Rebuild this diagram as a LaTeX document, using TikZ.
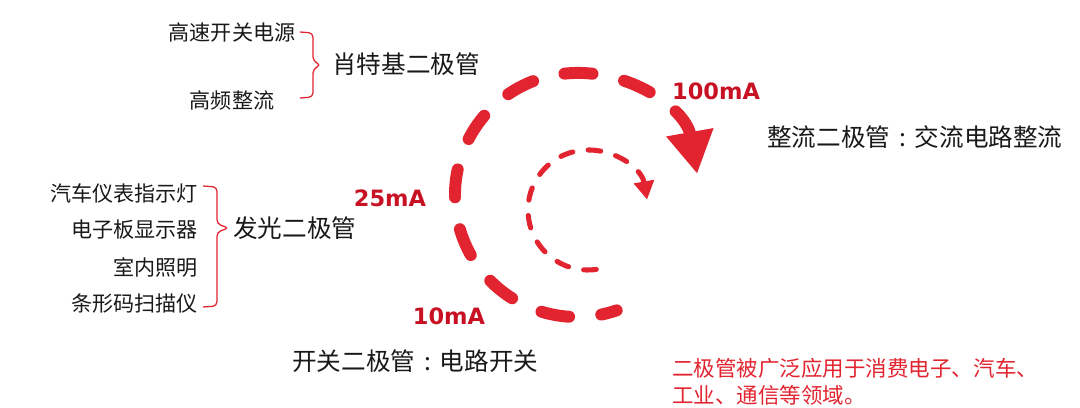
\documentclass[tikz,border=0pt]{standalone}
\usepackage{fontspec}
\setmainfont{Noto Sans CJK SC}
\newfontfamily\mafont{DejaVu Sans}
\usetikzlibrary{arrows.meta}
\definecolor{arcred}{RGB}{226,36,48}
\definecolor{labred}{RGB}{200,18,36}
\definecolor{ink}{RGB}{25,25,25}
\newcommand{\fwcolon}{\makebox[1em][c]{:}}

\begin{document}
\begin{tikzpicture}[x=0.025cm, y=-0.025cm,
		small/.style={font=\fontsize{15}{18}\selectfont, text=ink, inner sep=0pt},
		big/.style={font=\fontsize{17.5}{21}\selectfont, text=ink, inner sep=0pt},
		amps/.style={font=\mafont\bfseries\fontsize{16}{19}\selectfont, text=labred, inner sep=0pt},
		bracket/.style={draw=arcred, line width=0.9pt, rounded corners=3pt},
		bigarc/.style={draw=arcred, line width=8.5pt, line cap=round, dash pattern=on 20pt off 23pt, {Triangle[length=30pt, width=32pt]}-},
		smallarc/.style={draw=arcred, line width=3.6pt, line cap=round, dash pattern=on 9pt off 11pt, {Triangle[length=13pt, width=14pt]}-}]
		\useasboundingbox (0,0) rectangle (1080,408);

		% schottky
		\node[small] (hs) at (232,32) {高速开关电源};
		\node[small] (hf) at (232,100) {高频整流};
		\coordinate (b1) at (300,32);
		\draw[bracket] (b1) -- ++(13,1) -- ++(0,28) -- ++(8,4) -- ++(-8,4) -- ++(0,28) -- ++(-13,1);
		\node[big, anchor=west] (sbd) at (332,64) {肖特基二极管};

		% led
		\foreach \t [count=\i] in {汽车仪表指示灯, 电子板显示器, 室内照明, 条形码扫描仪} {
			\node[small, anchor=east] (led\i) at (198,{156+37*\i}) {\t};
		}
		\coordinate (b2) at (203,186);
		\draw[bracket] (b2) -- ++(14,1) -- ++(0,37) -- ++(12,4) -- ++(-12,4) -- ++(0,74) -- ++(-14,1);
		\node[big, anchor=west] (led) at (233,228) {发光二极管};

		% current arcs, drawn from the head back to the tail
		\coordinate (c1) at (577,195);
		\coordinate (c2) at (588,210);
		\draw[bigarc] ([shift={(350:122)}]c1) arc[start angle=350, end angle=71, radius=122];
		\draw[smallarc] ([shift={(350:60)}]c2) arc[start angle=350, end angle=72, radius=60];

		\node[amps] (a100) at (716,91) {100mA};
		\node[amps] (a25) at (390,198) {25mA};
		\node[amps] (a10) at (449,316) {10mA};

		\node[big, anchor=west] (sw) at (292,361) {开关二极管\fwcolon 电路开关};
		\node[big, anchor=west] (rect) at (767,137) {整流二极管\fwcolon 交流电路整流};
		\node[anchor=west, align=left, inner sep=0pt, text=arcred, font=\fontsize{15.3}{19.2}\selectfont] (note) at (672,382) {二极管被广泛应用于消费电子、汽车、\\工业、通信等领域。};
	\end{tikzpicture}
\end{document}
